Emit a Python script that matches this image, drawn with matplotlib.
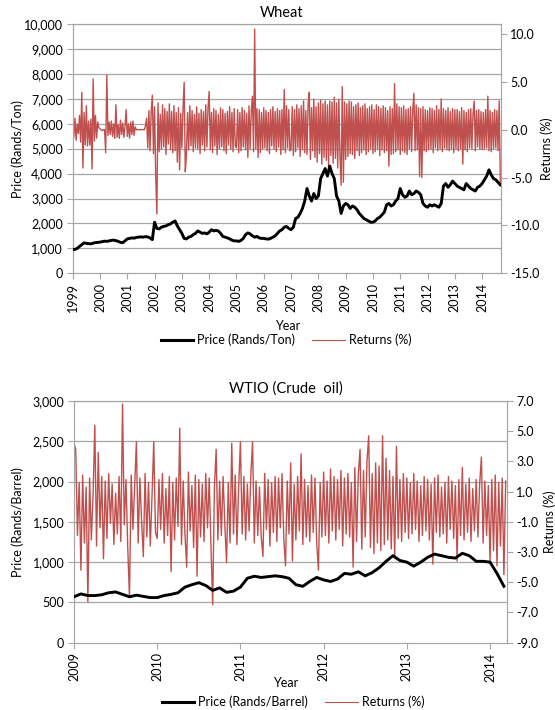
import matplotlib
matplotlib.use('Agg')

import matplotlib.pyplot as plt
import numpy as np
from matplotlib.lines import Line2D
from matplotlib.ticker import FuncFormatter, MultipleLocator

plt.rcParams['font.family'] = ['Lato', 'DejaVu Sans']
plt.rcParams['font.size'] = 9


# ===============================
# DATA
# ===============================
# Wheat price, monthly from Jan 1999
wheat_price = [
    950, 960, 1000, 1080, 1150, 1220, 1200, 1190, 1180, 1210, 1230, 1240,
    1250, 1270, 1290, 1280, 1300, 1320, 1330, 1310, 1280, 1240, 1230, 1300,
    1380, 1400, 1420, 1410, 1440, 1450, 1460, 1450, 1470, 1460, 1420, 1350,
    2050, 1800, 1780, 1850, 1880, 1900, 1950, 1980, 2050, 2100, 1900, 1750,
    1600, 1400, 1380, 1450, 1480, 1550, 1600, 1700, 1650, 1600, 1620, 1580,
    1650, 1750, 1700, 1720, 1700, 1600, 1480, 1450, 1420, 1380, 1330, 1300,
    1300, 1280, 1320, 1400, 1550, 1620, 1580, 1500, 1450, 1480, 1420, 1400,
    1400, 1380, 1370, 1400, 1450, 1500, 1600, 1700, 1750, 1850, 1880, 1800,
    1750, 1850, 2200, 2250, 2400, 2600, 2900, 3400, 3100, 2900, 3200, 3000,
    3100, 3800, 4000, 4200, 3900, 4300, 4000, 3800, 3100, 2900, 2400, 2700,
    2800, 2750, 2600, 2700, 2650, 2550, 2400, 2300, 2200, 2150, 2100, 2050,
    2050, 2100, 2200, 2250, 2350, 2450, 2750, 2800, 2700, 2750, 2900, 3000,
    3400, 3150, 3050, 3100, 3300, 3150, 3200, 3300, 3250, 3150, 2800, 2700,
    2650, 2750, 2700, 2750, 2700, 2650, 2800, 3500, 3600, 3450, 3550, 3700,
    3600, 3500, 3450, 3400, 3350, 3600, 3500, 3400, 3350, 3300, 3450, 3500,
    3600, 3750, 3900, 4150, 3950, 3800, 3750, 3650, 3550,
]

# Wheat returns (%), twice a month from Jan 1999
w1999 = [3.0, -0.8, 1.2, -1.1, 0.6, -0.4, 1.5, -1.3, 3.9, -4.0, 1.8, -1.6,
         2.5, -1.7, 0.9, -1.6, 1.1, -4.1, 5.3, -1.2, 1.5, -0.9, 0.8, 0.2]
w2000 = [0.1, 0.0, -0.1, 0.0, 0.0, -2.4, 5.7, -0.6, 0.8, -0.5, 0.9, -0.7,
         0.6, -0.9, 2.6, -0.8, 0.5, -0.9, 1.0, -0.5, 0.7, -0.8, 0.4, 2.1]
w2001 = [-0.7, 0.6, -0.9, 0.8, -0.5, 0.9, -0.6, 0.3, 0.0, 0.0, 0.0, 0.0,
         0.0, 0.0, 0.0, 0.0, 0.4, 1.2, -1.9, 2.0, -2.2, 1.8, 3.6, -2.5]
w2002 = [2.4, -5.0, -8.8, 2.8, -2.3, 1.6, -2.0, 2.6, -1.8, 2.2, -2.6, 1.9,
         -1.5, 2.7, -2.1, 1.9, -2.4, 2.5, -2.2, 1.8, -3.4, 2.3, -4.2, 1.7]
w2003 = [-1.9, 2.2, 4.95, -4.4, -2.6, 1.8, -2.1, 2.5, -1.7, 2.0, -2.3, 1.6,
         -1.9, 2.4, -2.0, 1.7, -2.5, 2.1, -1.6, 1.9, -2.2, 2.6, -1.8, 2.3]
w2004 = [4.0, -2.1, 1.8, -2.4, 2.2, -1.7, 2.0, -2.6, 1.6, -2.0, 2.3, -1.8,
         2.1, -2.2, 1.7, -2.5, 1.9, -1.6, 2.4, -2.0, 1.8, -2.3, 2.2, -1.7]
w2005 = [-1.9, 2.1, -2.4, 1.8, -2.2, 2.3, -1.8, 2.0, -2.1, 1.7, -2.9, 2.5,
         -2.0, 1.9, 3.5, -2.3, 10.5, -2.0, 2.2, -2.9, 2.1, -2.4, 1.8, -2.0]
w2006 = [2.3, -1.9, 2.0, -2.2, 1.8, -2.5, 2.1, -1.7, 2.4, -2.0, 1.9, -2.3,
         2.2, -1.8, 2.0, -2.6, 2.1, -2.1, 4.2, -2.4, 2.5, -1.9, 2.1, -2.2]
w2007 = [-2.0, 2.4, -2.7, 2.1, -2.3, 2.6, -1.9, 2.2, -2.8, 2.5, -2.1, 3.0,
         -2.4, 2.0, -2.6, 2.7, 3.9, -3.1, 2.3, -2.2, 3.2, -2.9, 2.4, -3.4]
w2008 = [2.8, -2.5, 3.1, -3.6, 2.7, -2.9, 3.0, -3.2, 2.6, -3.8, 3.0, -2.7,
         2.9, -3.5, 3.4, -3.0, 2.8, -4.0, 3.2, -2.8, -5.8, 4.5, -5.5, 2.9]
w2009 = [-3.1, 2.7, -2.8, 3.0, -2.5, 2.9, -2.6, 2.4, -3.0, 2.6, -2.2, 2.8,
         -2.7, 2.3, -2.4, 2.5, -2.1, 2.7, -2.6, 2.2, -2.3, 2.4, -2.0, 2.6]
w2010 = [-2.5, 2.1, -2.3, 2.6, -2.0, 2.4, -2.7, 2.2, -2.1, 2.5, -2.4, 2.3,
         -2.2, 2.0, -3.8, 2.4, -2.6, 2.2, -2.5, 4.8, -2.3, 2.7, -2.1, 2.4]
w2011 = [-2.6, 2.3, -2.2, 2.5, -2.4, 2.1, -2.6, 2.2, -2.0, 2.4, -2.3, 2.1,
         3.8, -2.2, 2.6, -2.1, 2.3, -4.9, 2.2, -5.0, 2.4, -2.2, 2.1, -2.3]
w2012 = [2.0, -2.1, 2.3, -2.0, 2.2, -2.4, 2.0, -1.9, 2.5, -2.2, 2.1, -2.0,
         3.2, -2.3, 2.2, -1.9, 2.0, -2.1, 2.3, -2.2, 1.9, -2.0, 2.2, -2.4]
w2013 = [2.1, -2.0, 2.1, -2.2, 1.9, -2.0, 2.3, -3.6, 2.0, -2.1, 1.8, -2.3,
         2.1, -1.9, 2.2, -2.0, 1.7, 3.0, -2.2, 2.0, -1.8, 2.1, -2.0, 1.9]
w2014 = [-2.1, 1.8, -2.0, 2.1, -1.9, 3.5, -2.2, 2.0, -2.3, 1.8, -2.0, 2.1,
         -1.9, 2.0, -2.2, 3.0, -5.5]
wheat_returns = (w1999 + w2000 + w2001 + w2002 + w2003 + w2004 + w2005 +
                 w2006 + w2007 + w2008 + w2009 + w2010 + w2011 + w2012 +
                 w2013 + w2014)

# WTIO price, monthly from Jan 2009
oil_price = [
    570, 605, 585, 585, 595, 620, 630, 600, 570, 590, 575, 560,
    560, 585, 600, 620, 690, 720, 745, 710, 650, 680, 625, 640,
    690, 800, 825, 810, 820, 830, 820, 800, 720, 700, 760, 810,
    780, 760, 790, 860, 850, 880, 830, 870, 930, 1010, 1080, 1020,
    1000, 950, 1000, 1060, 1100, 1080, 1060, 1050, 1110, 1080, 1010, 1010,
    1000, 860, 700,
]

# WTIO returns (%), 48 per year from Jan 2009
o2009 = [4.2, 3.8, -1.9, 1.6, -4.2, 2.1, -2.4, 1.3, -6.3, 1.9, -2.2, 0.8,
         5.4, -2.6, 3.6, -1.4, 2.0, -3.45, 1.7, -2.1, 2.2, -1.1, 1.5, -2.5,
         0.9, -1.8, 2.0, -2.3, 6.8, -1.2, 1.8, -2.7, -6.0, 2.1, -1.5, 1.4,
         4.3, -2.4, 1.9, -1.0, -3.3, 2.2, -2.0, 1.6, -2.6, 0.7, 4.3, -1.7]
o2010 = [-2.1, 1.8, -1.5, 2.2, -2.4, 1.2, -1.9, 2.0, -4.3, 1.6, -2.2, 1.9,
         -1.3, 5.2, -2.5, 1.7, -1.8, -4.0, 2.3, -1.6, 1.4, -2.7, 2.1, -4.6,
         1.8, -2.0, 1.5, -2.3, 2.2, -1.4, 1.9, -2.6, -6.5, 1.3, 3.8, -2.2,
         1.7, -1.9, 2.0, -1.2, -3.7, 1.6, -2.4, 4.2, -1.8, 2.1, -2.5, 1.4]
o2011 = [4.3, -1.8, 2.0, -2.2, 1.5, -1.6, 2.1, 4.3, -2.4, 1.7, -1.9, 1.3,
         -2.0, -3.3, 2.2, -1.5, 1.8, -2.6, 1.6, -1.7, 2.0, -2.3, 1.9, -1.4,
         2.2, -2.1, -3.9, 1.7, -1.8, 2.9, -3.6, 1.5, -2.2, 2.0, -1.6, 3.5,
         -2.5, 1.8, -2.0, 1.4, -2.3, 2.1, -1.7, 1.9, -2.4, -4.2, 1.6, -2.0]
o2012 = [2.3, -1.9, 1.7, -2.4, 2.5, -1.6, 2.0, -2.2, 1.8, -1.5, 2.4, -2.6,
         1.9, -1.8, 2.2, -2.0, 1.6, -4.0, 2.6, -2.3, 2.1, 3.8, -2.8, 2.4,
         -2.0, 3.0, 4.7, -2.7, 2.2, -3.1, 2.9, -2.4, 2.7, -2.9, 4.7, -2.5,
         3.2, -2.2, 2.4, -2.8, 2.0, -3.4, 4.0, -2.1, 1.8, -2.3, 2.2, -1.7]
o2013 = [1.9, -2.1, 1.6, -1.8, 2.2, -1.5, 1.7, -2.3, 1.4, -1.9, 2.0, -1.6,
         1.8, -2.2, 1.5, -3.8, 1.9, -1.7, 2.1, -2.0, 1.3, -1.8, 1.6, -2.4,
         2.0, -1.5, 1.7, -2.1, 1.4, -3.6, 1.8, -1.9, 2.6, -2.2, 1.5, -1.7,
         1.9, -2.3, 1.2, -1.6, 1.8, -2.0, 1.5, 3.3, -2.4, 1.7, -1.9, 1.4]
o2014 = [-3.7, 1.8, -2.9, 2.1, -3.9, 1.6, -2.6, 1.9, -4.5, 1.7]
oil_returns = o2009 + o2010 + o2011 + o2012 + o2013 + o2014


# ===============================
# STYLE
# ===============================
red = '#C0504D'
grey = '#A6A6A6'
W, H = 555, 710


def panel(rect, years, price, p_step, price_x, returns, ret_x,
          plim, rlim, rstep, xlim, ylab):
    axp = fig.add_axes(rect)
    axr = axp.twinx()
    axr.set_zorder(1)
    axp.set_zorder(2)
    axp.patch.set_visible(False)

    axp.set_ylim(*plim)
    axr.set_ylim(*rlim)
    axp.set_xlim(*xlim)

    # horizontal gridlines at the price ticks, drawn under both series
    for v in np.arange(plim[0] + p_step, plim[1] + 1, p_step):
        r = rlim[0] + (v - plim[0]) / (plim[1] - plim[0]) * (rlim[1] - rlim[0])
        axr.axhline(r, color=grey, lw=0.9, zorder=0)

    axr.plot(ret_x, returns, color=red, lw=1.0, zorder=2)
    axp.plot(price_x, price, color='black', lw=2.1, zorder=3)

    axp.set_xticks(years)
    axp.set_xticklabels([str(y) for y in years], rotation=90)
    axp.yaxis.set_major_locator(MultipleLocator(p_step))
    axp.yaxis.set_major_formatter(FuncFormatter(lambda v, p: f'{v:,.0f}'))
    axr.set_yticks(np.arange(rlim[0], rlim[1] + 0.01, rstep))
    axr.yaxis.set_major_formatter(FuncFormatter(lambda v, p: f'{v:.1f}'))
    axr.set_ylim(*rlim)

    for a in (axp, axr):
        for s in a.spines.values():
            s.set_color(grey)
        a.tick_params(direction='out', length=4, color=grey,
                      labelsize=9, pad=3)
    axp.set_ylabel(ylab, fontsize=9)
    axr.set_ylabel('Returns (%)', fontsize=9)
    return axp, axr


fig = plt.figure(figsize=(W / 100, H / 100), dpi=100)

# ---- Wheat ----
wx_price = 1999 + np.arange(len(wheat_price)) / 12
wx_ret = 1999 + np.arange(len(wheat_returns)) / 24
l, r_, t, b = 72.7, 500.7, 24, 273.3
axp, axr = panel([l / W, 1 - b / H, (r_ - l) / W, (b - t) / H],
                 list(range(1999, 2015)), wheat_price, 1000, wx_price,
                 wheat_returns, wx_ret, (0, 10000), (-15, 11.04), 5,
                 (1999, 2014.68), 'Price (Rands/Ton)')
axp.yaxis.set_label_coords((24 - l) / (r_ - l), 0.5)
axr.yaxis.set_label_coords((540 - l) / (r_ - l), 0.5)
fig.text(282 / W, 1 - 13 / H, 'Wheat', ha='center', va='center', fontsize=10.5)
fig.text(288 / W, 1 - 326 / H, 'Year', ha='center', va='center', fontsize=9)
fig.legend([Line2D([], [], color='black', lw=2.2),
            Line2D([], [], color=red, lw=0.8)],
           ['Price (Rands/Ton)', 'Returns (%)'],
           loc='center', bbox_to_anchor=(286 / W, 1 - 340 / H), ncol=2,
           frameon=False, handlelength=2.6, handletextpad=0.3,
           columnspacing=1.4, fontsize=9)

# ---- WTIO ----
ox_price = 2009 + np.arange(len(oil_price)) / 12
ox_ret = 2009 + np.arange(len(oil_returns)) / 48
l, r_, t, b = 74, 506.7, 401, 642.7
axp, axr = panel([l / W, 1 - b / H, (r_ - l) / W, (b - t) / H],
                 list(range(2009, 2015)), oil_price, 500, ox_price,
                 oil_returns, ox_ret, (0, 3000), (-9, 7), 2,
                 (2009, 2014.2), 'Price (Rands/Barrel)')
axp.yaxis.set_label_coords((24 - l) / (r_ - l), 0.5)
axr.yaxis.set_label_coords((543 - l) / (r_ - l), 0.5)
fig.text(286 / W, 1 - 389 / H, 'WTIO (Crude  oil)', ha='center',
         va='center', fontsize=10.5)
fig.text(286 / W, 1 - 683 / H, 'Year', ha='center', va='center', fontsize=9)
fig.legend([Line2D([], [], color='black', lw=2.2),
            Line2D([], [], color=red, lw=0.8)],
           ['Price (Rands/Barrel)', 'Returns (%)'],
           loc='center', bbox_to_anchor=(293 / W, 1 - 702 / H), ncol=2,
           frameon=False, handlelength=2.6, handletextpad=0.3,
           columnspacing=1.4, fontsize=9)

fig.savefig('out.png', dpi=100)
plt.close(fig)
